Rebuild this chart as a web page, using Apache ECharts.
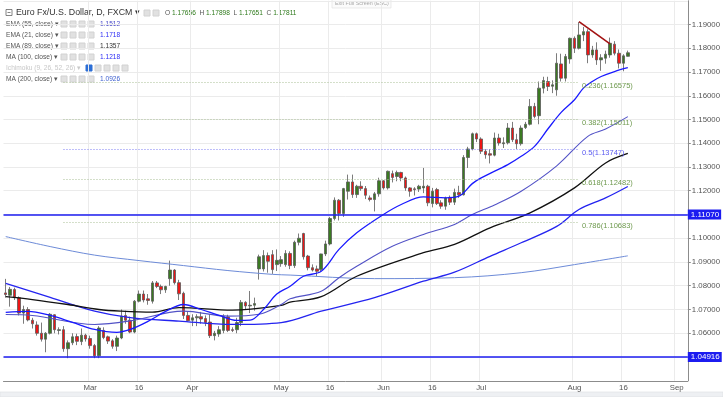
<!DOCTYPE html>
<html>
<head>
<meta charset="utf-8">
<script src="https://cdn.jsdelivr.net/npm/echarts@6/dist/echarts.min.js"></script>
<style>
  html, body { margin: 0; padding: 0; background: #fff; }
  #chart { width: 723px; height: 397px; }
</style>
</head>
<body>
<div id="chart"></div>
<script>
// daily EUR/USD candles, Feb 2 - Aug 17 2017: [open, close, low, high]
var ohlc = [
    [1.0770,1.0763,1.0750,1.0829],[1.0760,1.0785,1.0712,1.0795],[1.0784,1.0750,1.0740,1.0792],[1.0750,1.0685,1.0675,1.0755],
    [1.0685,1.0700,1.0640,1.0716],[1.0700,1.0656,1.0650,1.0710],[1.0655,1.0640,1.0620,1.0665],[1.0635,1.0600,1.0590,1.0650],
    [1.0600,1.0575,1.0565,1.0645],[1.0575,1.0600,1.0520,1.0605],[1.0600,1.0680,1.0595,1.0685],[1.0678,1.0615,1.0600,1.0680],
    [1.0612,1.0615,1.0595,1.0625],[1.0615,1.0535,1.0522,1.0630],[1.0535,1.0560,1.0495,1.0570],[1.0560,1.0585,1.0550,1.0600],
    [1.0586,1.0566,1.0550,1.0598],[1.0565,1.0592,1.0550,1.0620],[1.0592,1.0576,1.0565,1.0598],[1.0578,1.0548,1.0535,1.0590],
    [1.0548,1.0505,1.0495,1.0555],[1.0505,1.0622,1.0495,1.0630],[1.0612,1.0582,1.0575,1.0625],[1.0585,1.0567,1.0555,1.0590],
    [1.0568,1.0545,1.0535,1.0575],[1.0545,1.0580,1.0525,1.0590],[1.0580,1.0672,1.0575,1.0700],[1.0675,1.0655,1.0640,1.0695],
    [1.0655,1.0605,1.0600,1.0670],[1.0605,1.0735,1.0600,1.0740],[1.0735,1.0765,1.0730,1.0780],[1.0765,1.0740,1.0730,1.0780],
    [1.0745,1.0738,1.0720,1.0765],[1.0735,1.0812,1.0725,1.0820],[1.0812,1.0797,1.0790,1.0820],[1.0797,1.0783,1.0765,1.0805],
    [1.0783,1.0797,1.0770,1.0800],[1.0830,1.0866,1.0800,1.0906],[1.0866,1.0813,1.0805,1.0870],[1.0813,1.0766,1.0740,1.0825],
    [1.0768,1.0675,1.0660,1.0775],[1.0675,1.0653,1.0650,1.0690],[1.0655,1.0665,1.0630,1.0680],[1.0665,1.0670,1.0630,1.0680],
    [1.0670,1.0660,1.0640,1.0690],[1.0662,1.0645,1.0630,1.0675],[1.0647,1.0590,1.0580,1.0680],[1.0590,1.0600,1.0570,1.0610],
    [1.0597,1.0615,1.0585,1.0630],[1.0612,1.0670,1.0600,1.0680],[1.0668,1.0612,1.0605,1.0678],[1.0615,1.0612,1.0605,1.0625],
    [1.0615,1.0645,1.0600,1.0665],[1.0645,1.0730,1.0630,1.0740],[1.0730,1.0715,1.0700,1.0735],[1.0715,1.0718,1.0685,1.0778],
    [1.0718,1.0725,1.0695,1.0750],[1.0871,1.0922,1.0826,1.0931],[1.0871,1.0927,1.0860,1.0950],[1.0927,1.0903,1.0855,1.0940],
    [1.0931,1.0868,1.0850,1.0950],[1.0889,1.0907,1.0862,1.0953],[1.0893,1.0910,1.0880,1.0925],[1.0889,1.0936,1.0880,1.0950],
    [1.0936,1.0885,1.0870,1.0945],[1.0885,1.0983,1.0875,1.0990],[1.0983,1.1000,1.0970,1.1020],[1.1020,1.0922,1.0910,1.1023],
    [1.0925,1.0876,1.0865,1.0930],[1.0876,1.0866,1.0860,1.0890],[1.0871,1.0861,1.0840,1.0885],[1.0868,1.0934,1.0860,1.0935],
    [1.0934,1.0976,1.0925,1.0990],[1.0976,1.1083,1.0970,1.1090],[1.1083,1.1160,1.1075,1.1172],[1.1160,1.1104,1.1075,1.1165],
    [1.1104,1.1209,1.1090,1.1212],[1.1198,1.1237,1.1163,1.1268],[1.1237,1.1184,1.1170,1.1268],[1.1184,1.1219,1.1170,1.1225],
    [1.1219,1.1209,1.1200,1.1240],[1.1209,1.1181,1.1165,1.1220],[1.1170,1.1163,1.1155,1.1180],[1.1163,1.1187,1.1113,1.1195],
    [1.1187,1.1242,1.1175,1.1255],[1.1242,1.1212,1.1205,1.1245],[1.1212,1.1282,1.1205,1.1285],[1.1272,1.1256,1.1235,1.1285],
    [1.1260,1.1277,1.1240,1.1285],[1.1277,1.1254,1.1240,1.1280],[1.1254,1.1212,1.1200,1.1260],[1.1212,1.1198,1.1175,1.1215],
    [1.1208,1.1205,1.1180,1.1215],[1.1207,1.1219,1.1195,1.1225],[1.1212,1.1219,1.1190,1.1296],[1.1219,1.1149,1.1135,1.1225],
    [1.1146,1.1198,1.1130,1.1212],[1.1205,1.1146,1.1140,1.1212],[1.1149,1.1135,1.1124,1.1160],[1.1135,1.1170,1.1120,1.1175],
    [1.1172,1.1152,1.1140,1.1180],[1.1152,1.1193,1.1140,1.1209],[1.1193,1.1183,1.1170,1.1221],[1.1183,1.1340,1.1180,1.1350],
    [1.1340,1.1376,1.1296,1.1385],[1.1376,1.1440,1.1370,1.1445],[1.1440,1.1418,1.1405,1.1445],[1.1418,1.1366,1.1355,1.1425],
    [1.1366,1.1352,1.1335,1.1375],[1.1356,1.1350,1.1315,1.1375],[1.1350,1.1422,1.1345,1.1445],[1.1422,1.1401,1.1390,1.1440],
    [1.1398,1.1402,1.1380,1.1425],[1.1402,1.1464,1.1395,1.1485],[1.1464,1.1415,1.1405,1.1490],[1.1415,1.1398,1.1376,1.1440],
    [1.1398,1.1464,1.1390,1.1475],[1.1466,1.1480,1.1460,1.1490],[1.1480,1.1555,1.1475,1.1586],[1.1555,1.1513,1.1505,1.1570],
    [1.1516,1.1632,1.1480,1.1660],[1.1632,1.1664,1.1610,1.1680],[1.1660,1.1639,1.1620,1.1680],[1.1640,1.1646,1.1611,1.1665],
    [1.1625,1.1737,1.1600,1.1779],[1.1734,1.1674,1.1660,1.1777],[1.1674,1.1765,1.1660,1.1776],[1.1755,1.1842,1.1735,1.1845],
    [1.1842,1.1800,1.1780,1.1850],[1.1800,1.1856,1.1795,1.1910],[1.1856,1.1870,1.1830,1.1890],[1.1870,1.1772,1.1737,1.1880],
    [1.1772,1.1793,1.1760,1.1810],[1.1793,1.1751,1.1730,1.1825],[1.1751,1.1760,1.1705,1.1775],[1.1758,1.1775,1.1735,1.1790],
    [1.1772,1.1821,1.1760,1.1845],[1.1817,1.1779,1.1770,1.1830],[1.1779,1.1737,1.1715,1.1795],[1.1737,1.1768,1.1703,1.1775],
    [1.1766,1.1781,1.1765,1.1790]
];

// indicator lines: [bar index, value]
var ema21 = [[0,1.0688],[5,1.0692],[10,1.0675],[15,1.0646],[20,1.0616],[25,1.0604],[28,1.0616],[32,1.0650],[36,1.0692],
    [40,1.0721],[44,1.0700],[48,1.0675],[52,1.0654],[55,1.0655],[58,1.0700],[61,1.0765],[64,1.0798],[67,1.0840],[71,1.0861],
    [75,1.0953],[79,1.1023],[85,1.1100],[89,1.1142],[94,1.1174],[99,1.1170],[102,1.1177],[105,1.1230],[107,1.1254],
    [113,1.1310],[116,1.1345],[119,1.1387],[122,1.1460],[125,1.1530],[128,1.1583],[130,1.1632],[132,1.1660],[134,1.1681],
    [137,1.1702],[140,1.1718]];
var ema55 = [[0,1.0679],[6,1.0675],[20,1.0637],[28,1.0652],[40,1.0693],[50,1.0672],[57,1.0680],[62,1.0721],[64,1.0745],
    [71,1.0777],[75,1.0834],[79,1.0882],[87,1.0966],[94,1.1016],[101,1.1058],[105,1.1100],[110,1.1140],[116,1.1198],
    [124,1.1305],[131,1.1429],[135,1.1460],[140,1.1512]];
var ema89 = [[0,1.0754],[6,1.0742],[14,1.0721],[21,1.0700],[26,1.0693],[33,1.0689],[39,1.0708],[51,1.0697],[62,1.0717],
    [64,1.0731],[71,1.0754],[79,1.0840],[94,1.0939],[101,1.0974],[109,1.1044],[118,1.1107],[128,1.1212],[135,1.1317],
    [140,1.1357]];
var ma100 = [[0,1.0810],[10,1.0751],[20,1.0693],[28,1.0666],[39,1.0651],[51,1.0637],[62,1.0645],[71,1.0693],[83,1.0750],
    [94,1.0819],[101,1.0857],[109,1.0924],[116,1.0981],[124,1.1050],[129,1.1121],[135,1.1170],[140,1.1218]];
var ma200 = [[0,1.1007],[10,1.0965],[20,1.0929],[30,1.0906],[40,1.0885],[50,1.0864],[60,1.0848],[64,1.0845],[83,1.0830],
    [101,1.0834],[116,1.0855],[128,1.0889],[140,1.0926]];

var fibNames = ['0.236', '0.382', '0.5', '0.618', '0.786'];
var fibPrices = [1.16575, 1.15011, 1.13747, 1.12482, 1.10683];
var levelPrices = [1.11070, 1.04916];
var lastClose = 1.17811;
var trendLine = [[129, 1.1912], [136, 1.1818]];

var tickDates = ['2017-03-01','2017-03-16','2017-04-03','2017-05-01','2017-05-16','2017-06-01',
    '2017-06-16','2017-07-03','2017-08-01','2017-08-16','2017-09-01'];
var tickText = ['Mar','16','Apr','May','16','Jun','16','Jul','Aug','16','Sep'];

// trading days (weekdays) starting Feb 2, with empty space to the right
var dates = [];
var d = new Date(Date.UTC(2017, 1, 2));
while (dates.length < 154) {
    var wd = d.getUTCDay();
    if (wd > 0 && wd < 6) dates.push(d.toISOString().slice(0, 10));
    d.setUTCDate(d.getUTCDate() + 1);
}
var tickAt = {};
tickDates.forEach(function (t, i) { tickAt[dates.indexOf(t)] = tickText[i]; });
var showTick = function (idx) { return tickAt[idx] !== undefined; };

var FONT = 'Liberation Sans, Arial, sans-serif';

var chart = echarts.init(document.getElementById('chart'));

var markData = [];
fibPrices.forEach(function (p, i) {
    var isHalf = fibNames[i] === '0.5';
    markData.push([
        {
            coord: [13, p],
            lineStyle: { color: isHalf ? '#7f7ff5' : '#a9bf95', type: [1, 2], width: 1 },
            label: {
                show: true, position: 'end', distance: 3, offset: [0, 4],
                formatter: fibNames[i] + '(' + p.toFixed(5) + ')',
                color: isHalf ? '#5b5bf0' : '#6f9a4f', fontSize: 7.5, fontFamily: FONT
            }
        },
        { coord: [129, p] }
    ]);
});
levelPrices.forEach(function (p) {
    markData.push({
        yAxis: p,
        lineStyle: { color: '#1c1cf0', type: 'solid', width: 1.6 },
        label: {
            show: true, position: 'end', distance: 0, formatter: p.toFixed(5),
            backgroundColor: '#1c1cf0', color: '#fff', padding: [1, 2, 1, 3],
            fontSize: 8, fontFamily: FONT
        }
    });
});
markData.push({
    yAxis: lastClose,
    lineStyle: { opacity: 0 },
    label: {
        show: true, position: 'end', distance: 0, formatter: lastClose.toFixed(5),
        backgroundColor: '#2f7a1c', color: '#fff', padding: [1, 2, 1, 3],
        fontSize: 8, fontFamily: FONT
    }
});
markData.push([
    { coord: trendLine[0], lineStyle: { color: '#a31212', width: 1.6, type: 'solid' }, label: { show: false } },
    { coord: trendLine[1] }
]);

function lineSeries(name, data, color, width) {
    return {
        name: name, type: 'line', data: data, smooth: 0.35, showSymbol: false,
        silent: true, lineStyle: { color: color, width: width }, z: 3
    };
}

// legend rows in the top left
var graphics = [];
function icons(x0, y, n, blueFirst) {
    for (var k = 0; k < n; k++) {
        graphics.push({
            type: 'rect', shape: { x: x0 + k * 9, y: y - 3, width: 6, height: 6 },
            style: { fill: (blueFirst && k === 0) ? '#2d6fd6' : '#e1e1e1', stroke: (blueFirst && k === 0) ? '#2d6fd6' : '#d2d2d2' }
        });
    }
}
function txt(x, y, s, color, size) {
    graphics.push({
        type: 'text', x: x, y: y,
        style: { text: s, fill: color, font: size + 'px ' + FONT, verticalAlign: 'middle' }
    });
}
var rows = [
    ['EMA (55, close)', '1.1512', '#4848c8', 24],
    ['EMA (21, close)', '1.1718', '#2c2cf5', 35],
    ['EMA (89, close)', '1.1357', '#333333', 46],
    ['MA (100, close)', '1.1218', '#2c2cf5', 57],
    ['MA (200, close)', '1.0926', '#3d5fcf', 79]
];
rows.forEach(function (r) {
    txt(6, r[3], r[0] + ' \u25BE', '#555', 6.6);
    icons(61, r[3], 4, false);
    txt(100, r[3], r[1], r[2], 6.6);
});
txt(6, 68, 'Ichimoku (9, 26, 52, 26) \u25BE', '#c8c8c8', 6.6);
icons(86, 68, 5, true);
graphics.push({ type: 'rect', shape: { x: 6, y: 9.5, width: 6, height: 6 }, style: { fill: '#fff', stroke: '#666', lineWidth: 0.8 } });
graphics.push({ type: 'line', shape: { x1: 7.5, y1: 12.5, x2: 10.5, y2: 12.5 }, style: { stroke: '#666', lineWidth: 0.8 } });
txt(16, 13, 'Euro Fx/U.S. Dollar, D, FXCM \u25BE', '#333', 8.8);
icons(144, 13, 2, false);
graphics.push({
    type: 'text', x: 165, y: 13,
    style: {
        text: '{l|O} {v|1.17656}  {l|H} {v|1.17898}  {l|L} {v|1.17651}  {l|C} {v|1.17811}',
        verticalAlign: 'middle', font: '6.6px ' + FONT,
        rich: {
            l: { fill: '#555', font: '6.6px ' + FONT },
            v: { fill: '#2f7a1c', font: '6.6px ' + FONT }
        }
    }
});
graphics.push({
    type: 'rect', shape: { x: 332, y: -1, width: 59, height: 9 },
    style: { fill: '#fbfbfb', stroke: '#dddddd', lineWidth: 0.6 }
});
txt(335, 3.5, 'Exit Full Screen (ESC)', '#a8a8a8', 5.4);
graphics.push({
    type: 'rect', shape: { x: 0, y: 392, width: 723, height: 5 },
    style: { fill: '#eef0f3', stroke: '#dcdfe3', lineWidth: 0.6 }
});

var option = {
    animation: false,
    backgroundColor: '#ffffff',
    grid: { left: 3.5, right: 35, top: 0.75, bottom: 16.25, containLabel: false },
    xAxis: {
        type: 'category',
        data: dates,
        boundaryGap: true,
        axisLine: { show: true, lineStyle: { color: '#8c8c8c', width: 1 } },
        axisTick: { show: false },
        axisLabel: {
            interval: showTick,
            formatter: function (v, idx) { return tickAt[idx] || ''; },
            color: '#555', fontSize: 7.8, fontFamily: FONT, margin: 3
        },
        splitLine: { show: true, interval: showTick, lineStyle: { color: '#ebebeb', width: 1 } }
    },
    yAxis: {
        type: 'value',
        position: 'right',
        min: 1.04,
        max: 1.20,
        interval: 0.01,
        axisLine: { show: true, lineStyle: { color: '#8c8c8c', width: 1 } },
        axisTick: { show: true, length: 3, lineStyle: { color: '#8c8c8c' } },
        axisLabel: {
            showMinLabel: false, showMaxLabel: false,
            formatter: function (v) { return v.toFixed(5); },
            color: '#555', fontSize: 7.8, fontFamily: FONT, margin: 4
        },
        splitLine: { show: true, lineStyle: { color: '#ebebeb', width: 1 } }
    },
    graphic: graphics,
    series: [
        {
            name: 'EURUSD',
            type: 'candlestick',
            data: ohlc,
            barWidth: 3,
            silent: true,
            itemStyle: {
                color: '#3b7a22',
                color0: '#ee1515',
                borderColor: '#5a5a5a',
                borderColor0: '#5a5a5a',
                borderWidth: 0.8
            },
            markLine: {
                silent: true,
                symbol: ['none', 'none'],
                animation: false,
                data: markData
            },
            z: 2
        },
        lineSeries('MA (200, close)', ma200, '#6d8bd8', 1),
        lineSeries('MA (100, close)', ma100, '#2424f0', 1.3),
        lineSeries('EMA (89, close)', ema89, '#111111', 1.3),
        lineSeries('EMA (55, close)', ema55, '#5252c6', 1.1),
        lineSeries('EMA (21, close)', ema21, '#1a1aff', 1.3)
    ]
};
chart.setOption(option);
</script>
</body>
</html>
